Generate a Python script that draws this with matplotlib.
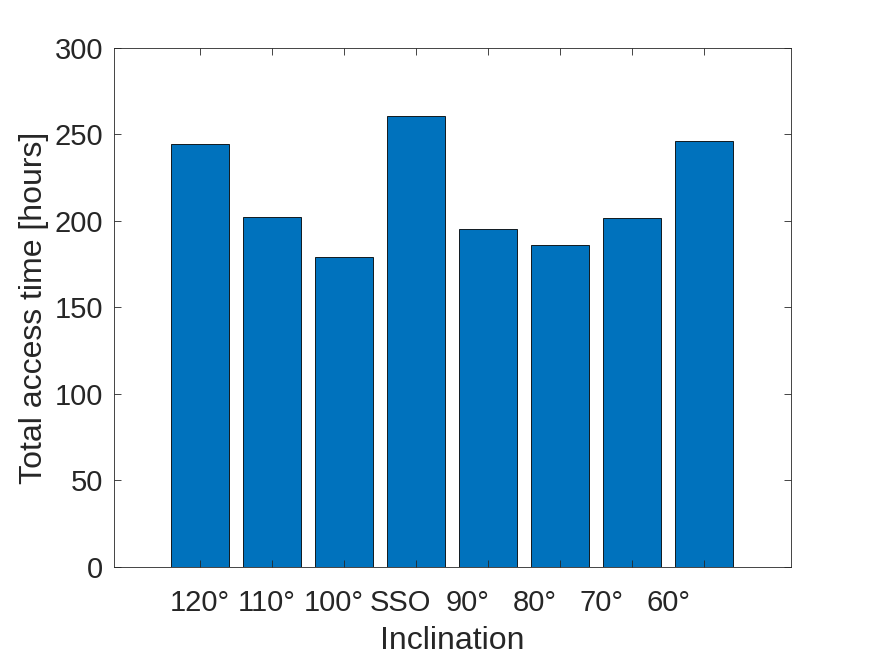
import numpy as np
import matplotlib.pyplot as plt

labels = ["120°", "110°", "100°", "SSO", "90°", "80°", "70°", "60°"]
access_hours = [244.5, 202.3, 179.2, 260.7, 195.4, 186.1, 201.7, 246.2]

plt.rcParams['font.family'] = ['Liberation Sans', 'DejaVu Sans']

x = np.arange(1, len(labels) + 1)
# the tick labels in the original are packed a bit tighter than the bars
label_pos = 1 + (x - 1) * 0.93

fig = plt.figure(figsize=(8.75, 6.57), dpi=100)
ax = fig.add_axes([0.1303, 0.137, 0.7737, 0.790])

ax.bar(x, access_hours, width=0.8, color='#0072BD', edgecolor='black', linewidth=0.6)

ax.set_xlim(-0.194, 9.21)
ax.set_ylim(0, 300)
ax.set_yticks(np.arange(0, 301, 50))
ax.xaxis.remove_overlapping_locs = False
ax.set_xticks(x)
ax.set_xticklabels([])
ax.set_xticks(label_pos, labels, minor=True)

ax.tick_params(which='major', direction='in', top=True, right=True, length=5,
               width=0.6, color='#262626')
ax.tick_params(axis='x', which='minor', length=0, pad=16)
ax.tick_params(which='both', labelsize=21, labelcolor='#262626')
ax.tick_params(axis='y', pad=8)
for s in ax.spines.values():
    s.set_color('#262626')
    s.set_linewidth(0.6)

ax.set_xlabel("Inclination", fontsize=23, color='#262626', labelpad=6)
ax.set_ylabel("Total access time [hours]", fontsize=23, color='#262626', labelpad=4)

fig.savefig("out.png", dpi=100)
